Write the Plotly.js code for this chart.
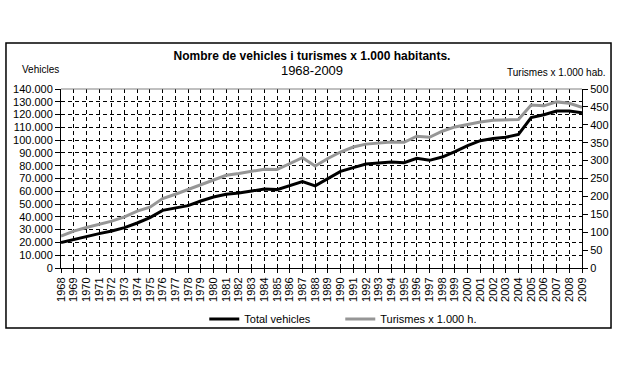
<!DOCTYPE html>
<html>
<head>
<meta charset="utf-8">
<script src="https://cdn.plot.ly/plotly-3.0.1.min.js"></script>
<style>html,body{margin:0;padding:0;background:#fff;}#chart{width:624px;height:367px;}</style>
</head>
<body>
<div id="chart"></div>
<script>
const years = [1968,1969,1970,1971,1972,1973,1974,1975,1976,1977,1978,1979,1980,1981,1982,1983,1984,1985,1986,1987,1988,1989,1990,1991,1992,1993,1994,1995,1996,1997,1998,1999,2000,2001,2002,2003,2004,2005,2006,2007,2008,2009];
const totalVehicles = [20000,22400,24800,26900,28900,31600,35200,39400,45100,46900,48800,52400,55500,57600,58600,60200,61800,61300,64400,67600,64200,69900,75600,78500,81300,82100,82900,82300,85800,84200,86800,91000,95700,99600,101200,102200,104500,117600,119900,122800,122800,121500];
const turismes = [89,103,113,122,131,143,159,170,194,206,219,231,244,259,264,271,276,275,291,308,285,306,324,338,346,348,352,351,368,365,382,394,402,408,413,413,415,455,453,464,460,449];
const leftTicks = [0,10000,20000,30000,40000,50000,60000,70000,80000,90000,100000,110000,120000,130000,140000];
const rightTicks = [0,50,100,150,200,250,300,350,400,450,500];

const FONT = 'Liberation Sans, Arial, sans-serif';
const traces = [
  {x: years, y: totalVehicles, name: 'Total vehicles', type: 'scatter', mode: 'lines',
   line: {color: '#000000', width: 3}, yaxis: 'y'},
  {x: years, y: turismes, name: 'Turismes x 1.000 h.', type: 'scatter', mode: 'lines',
   line: {color: '#969696', width: 3}, yaxis: 'y2'}
];
const layout = {
  width: 624, height: 367,
  margin: {l: 61, r: 42, t: 89, b: 99},
  paper_bgcolor: '#ffffff', plot_bgcolor: '#ffffff',
  separators: ',.',
  font: {family: FONT, size: 11, color: '#000'},
  title: {text: '<b>Nombre de vehicles i turismes x 1.000 habitants.</b><br><span style="font-size:13px">1968-2009</span>',
    font: {family: FONT, size: 12, color: '#000'}, x: 0.5, xref: 'container', xanchor: 'center',
    y: 0.837, yref: 'container', yanchor: 'top'},
  showlegend: true,
  legend: {orientation: 'h', x: 0.275, y: -0.285, xanchor: 'left', yanchor: 'middle',
    font: {family: FONT, size: 11, color: '#000'}, bgcolor: 'rgba(0,0,0,0)', traceorder: 'normal',
    entrywidth: 91, entrywidthmode: 'pixels'},
  xaxis: {type: 'linear', range: [1968, 2009], tickmode: 'array', tickvals: years, ticktext: years.map(String),
    tickangle: -90, ticks: 'outside', ticklen: 4, tickcolor: '#000', showline: true, linecolor: '#000', linewidth: 1,
    showgrid: true, gridcolor: '#000', gridwidth: 1, griddash: '4px,3px', zeroline: false,
    tickfont: {family: FONT, size: 11, color: '#000'}, fixedrange: true},
  yaxis: {range: [0, 140000], tickmode: 'array', tickvals: leftTicks, tickformat: ',d',
    ticks: 'outside', ticklen: 5, tickcolor: '#000', showline: true, linecolor: '#000', linewidth: 1,
    showgrid: true, gridcolor: '#000', gridwidth: 1, griddash: '4px,3px', zeroline: false,
    tickfont: {family: FONT, size: 11, color: '#000'}, fixedrange: true},
  yaxis2: {range: [0, 500], tickmode: 'array', tickvals: rightTicks, overlaying: 'y', side: 'right',
    ticks: 'outside', ticklen: 5, tickcolor: '#000', showline: true, linecolor: '#000', linewidth: 1,
    showgrid: false, zeroline: false, tickfont: {family: FONT, size: 11, color: '#000'}, fixedrange: true},
  shapes: [
    {type: 'line', xref: 'paper', yref: 'paper', x0: 0, x1: 1, y0: 1, y1: 1, line: {color: '#808080', width: 1}},
    {type: 'rect', xref: 'paper', yref: 'paper', x0: -0.1056, x1: 1.0557, y0: -0.335, y1: 1.257,
     line: {color: '#000', width: 1.5}, fillcolor: 'rgba(0,0,0,0)', layer: 'below'}
  ],
  annotations: [
    {text: 'Vehicles', xref: 'paper', yref: 'paper', x: (20-61)/521, y: (268-70)/179, xanchor: 'left', yanchor: 'middle',
     showarrow: false, font: {family: FONT, size: 10, color: '#000'}},
    {text: 'Turismes x 1.000 hab.', xref: 'paper', yref: 'paper', x: (608-61)/521, y: (268-72)/179, xanchor: 'right', yanchor: 'middle',
     showarrow: false, font: {family: FONT, size: 10, color: '#000'}}
  ]
};
Plotly.newPlot('chart', traces, layout, {staticPlot: true, displayModeBar: false});
</script>
</body>
</html>
